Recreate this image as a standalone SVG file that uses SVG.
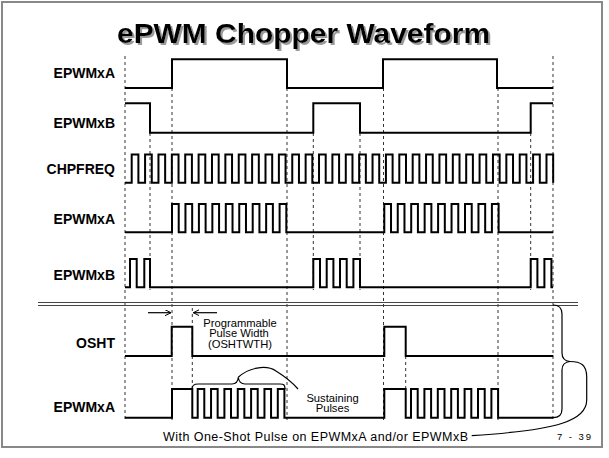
<svg xmlns="http://www.w3.org/2000/svg" width="609" height="458" viewBox="0 0 609 458">
<style>
.lbl{font-family:"Liberation Sans",Arial,sans-serif;font-weight:bold;font-size:14px;fill:#000;text-anchor:end}
.ann{font-family:"Liberation Sans",Arial,sans-serif;font-size:11.2px;fill:#000;text-anchor:middle}
.wave{fill:none;stroke:#000;stroke-width:2;stroke-linejoin:miter}
.dash{fill:none;stroke:#333;stroke-width:1;stroke-dasharray:3,3}
.thin{fill:none;stroke:#000;stroke-width:1.2}
</style>
<defs>
<marker id="arr" markerWidth="8" markerHeight="8" refX="6" refY="3" orient="auto" markerUnits="userSpaceOnUse">
<path d="M0,0 L6,3 L0,6" fill="none" stroke="#000" stroke-width="1"/>
</marker>
<filter id="shadow" x="-5%" y="-20%" width="110%" height="150%">
<feOffset in="SourceAlpha" dx="2" dy="2" result="off"/>
<feFlood flood-color="#9a9a9a"/>
<feComposite in2="off" operator="in" result="sh"/>
<feMerge><feMergeNode in="sh"/><feMergeNode in="SourceGraphic"/></feMerge>
</filter>
</defs>
<rect x="2" y="2" width="600" height="445" fill="#fff" stroke="#888" stroke-width="2"/>
<g id="title">
<text x="303.5" y="43" text-anchor="middle" font-family="Liberation Sans,Arial,sans-serif" font-weight="bold" font-size="28" fill="#000" textLength="373" lengthAdjust="spacingAndGlyphs" filter="url(#shadow)">ePWM Chopper Waveform</text>
</g>
<g id="guides">
<line class="dash" x1="125" y1="56" x2="125" y2="420"/>
<line class="dash" x1="172" y1="88" x2="172" y2="420"/>
<line class="dash" x1="287" y1="88" x2="287" y2="420"/>
<line class="dash" x1="383.5" y1="88" x2="383.5" y2="420"/>
<line class="dash" x1="498" y1="88" x2="498" y2="420"/>
<line class="dash" x1="553" y1="56" x2="553" y2="420"/>
<line class="dash" x1="150" y1="133" x2="150" y2="290"/>
<line class="dash" x1="313.3" y1="133" x2="313.3" y2="290"/>
<line class="dash" x1="360" y1="133" x2="360" y2="290"/>
<line class="dash" x1="530.7" y1="133" x2="530.7" y2="290"/>
<line class="dash" x1="192.3" y1="308" x2="192.3" y2="389"/>
<line class="dash" x1="405.7" y1="356" x2="405.7" y2="389"/>
</g>
<g id="separator">
<line x1="38" y1="302.5" x2="578" y2="302.5" stroke="#444" stroke-width="1"/>
<line x1="38" y1="305.5" x2="578" y2="305.5" stroke="#444" stroke-width="1"/>
</g>
<g id="labels">
<text class="lbl" x="115" y="78.3">EPWMxA</text>
<text class="lbl" x="115" y="127.7">EPWMxB</text>
<text class="lbl" x="115" y="174">CHPFREQ</text>
<text class="lbl" x="115" y="224">EPWMxA</text>
<text class="lbl" x="115" y="280">EPWMxB</text>
<text class="lbl" x="115" y="348.3">OSHT</text>
<text class="lbl" x="115" y="411.7">EPWMxA</text>
</g>
<g id="wave-epwmxa">
<path class="wave" d="M125,88 H172 V59.3 H287 V88 H383 V59.3 H497 V88 H553"/>
</g>
<g id="wave-epwmxb">
<path class="wave" d="M125,103.3 H150 V132.7 H313.3 V103.3 H360 V132.7 H530.7 V103.3 H553"/>
</g>
<g id="wave-chpfreq">
<path class="wave" d="M125,182.7 H131.7
V154.5 h6.69 V182.7 h6.69 V154.5 h6.69 V182.7 h6.69 V154.5 h6.69 V182.7 h6.69 V154.5 h6.69 V182.7 h6.69
V154.5 h6.69 V182.7 h6.69 V154.5 h6.69 V182.7 h6.69 V154.5 h6.69 V182.7 h6.69 V154.5 h6.69 V182.7 h6.69
V154.5 h6.69 V182.7 h6.69 V154.5 h6.69 V182.7 h6.69 V154.5 h6.69 V182.7 h6.69 V154.5 h6.69 V182.7 h6.69
V154.5 h6.69 V182.7 h6.69 V154.5 h6.69 V182.7 h6.69 V154.5 h6.69 V182.7 h6.69 V154.5 h6.69 V182.7 h6.69
V154.5 h6.69 V182.7 h6.69 V154.5 h6.69 V182.7 h6.69 V154.5 h6.69 V182.7 h6.69 V154.5 h6.69 V182.7 h6.69
V154.5 h6.69 V182.7 h6.69 V154.5 h6.69 V182.7 h6.69 V154.5 h6.69 V182.7 h6.69 V154.5 h6.69 V182.7 h6.69
V154.5 h6.69 V182.7 h6.69 V154.5 h6.69 V182.7 h6.69 V154.5 h6.69 V182.7 h6.69 V154.5 h6.69 V182.7 h6.69
V154.5 h6.69 V182.7 h6.69 V154.5 h6.69 V182.7 h6.69 V154.5 h6.69 V182.7 h6.69 V154.5 h6.69 V182.7"/>
</g>
<g id="wave-epwmxa-chopped">
<path class="wave" d="M125,232.3 H172
V204 h6.72 V232.3 h6.73 V204 h6.72 V232.3 h6.73 V204 h6.72 V232.3 h6.73 V204 h6.72 V232.3 h6.73
V204 h6.72 V232.3 h6.73 V204 h6.72 V232.3 h6.73 V204 h6.72 V232.3 h6.73 V204 h6.72 V232.3 h6.73
V204 h6.72 V232.3 H384.3
V204 h6.72 V232.3 h6.73 V204 h6.72 V232.3 h6.73 V204 h6.72 V232.3 h6.73 V204 h6.72 V232.3 h6.73
V204 h6.72 V232.3 h6.73 V204 h6.72 V232.3 h6.73 V204 h6.72 V232.3 h6.73 V204 h6.72 V232.3 h6.73
V204 h6.72 V232.3 H553"/>
</g>
<g id="wave-epwmxb-chopped">
<path class="wave" d="M125,287.3 H130 V259 H136.7 V287.3 H144.3 V259 H150 V287.3 H313.3 V259 H320 V287.3 H326.7 V259 H333.4 V287.3 H340 V259 H346.7 V287.3 H353.4 V259 H360 V287.3 H530.7 V259 H537.4 V287.3 H544.4 V259 H551.4 V287.3 H553"/>
</g>
<g id="wave-osht">
<path class="wave" d="M125,356 H171.7 V326.7 H192.3 V356 H384.3 V326.7 H405.7 V356 H553.3"/>
</g>
<g id="wave-epwmxa-oneshot">
<path class="wave" d="M125,417.7 H172 V389 H192.3 V417.7 H197.7
V389 h6.6 V417.7 h6.75 V389 h6.6 V417.7 h6.75 V389 h6.6 V417.7 h6.75 V389 h6.6 V417.7 h6.75
V389 h6.6 V417.7 h6.75 V389 h6.6 V417.7 h6.75 V389 h6.6 V417.7
H384.3 V389 H405.7 V417.7 H411
V389 h6.7 V417.7 h6.7 V389 h6.7 V417.7 h6.7 V389 h6.7 V417.7 h6.7 V389 h6.7 V417.7 h6.7
V389 h6.7 V417.7 h6.7 V389 h6.7 V417.7 h6.7 V389 h6.7 V417.7 H553"/>
</g>
<g id="connectors">
<line class="thin" x1="148" y1="312.7" x2="171" y2="312.7" marker-end="url(#arr)"/>
<line class="thin" x1="217" y1="312.7" x2="193.3" y2="312.7" marker-end="url(#arr)"/>
<path class="thin" d="M192,389 C192,385 194,384 198,384 L232,384 C236,384 238,381 238.3,377.3 C238.6,381 241,384 245,384 L280,384 C284,384 285,385 285,389"/>
<path class="thin" d="M238.3,377.3 C248,368 266,364 276,371 C284,376 292,382 298,389"/>
<path class="thin" d="M553,305 C559,305 562,308 562,314 L562,353 C562,358 565,361 570,361.5 C565,362 562,365 562,370 L562,409 C562,415 559,417.7 553,417.7"/>
<path class="thin" d="M570,361.5 C581,361.5 586.7,365 586.7,377 L586.7,400 C586.7,420 560,430 471.7,435.7"/>
</g>
<g id="annotations">
<text class="ann" x="240" y="326.8">Programmable</text>
<text class="ann" x="239" y="337.3">Pulse Width</text>
<text class="ann" x="240" y="347.8">(OSHTWTH)</text>
<text class="ann" x="332.5" y="401.5">Sustaining</text>
<text class="ann" x="332.5" y="412">Pulses</text>
<text x="163" y="440.5" font-family="Liberation Sans,Arial,sans-serif" font-size="12.5" fill="#000" textLength="305" lengthAdjust="spacing">With One-Shot Pulse on EPWMxA and/or EPWMxB</text>
<text x="557" y="440" font-family="Liberation Sans,Arial,sans-serif" font-size="9.5" fill="#000" textLength="34" lengthAdjust="spacing">7 - 39</text>
</g>
</svg>
